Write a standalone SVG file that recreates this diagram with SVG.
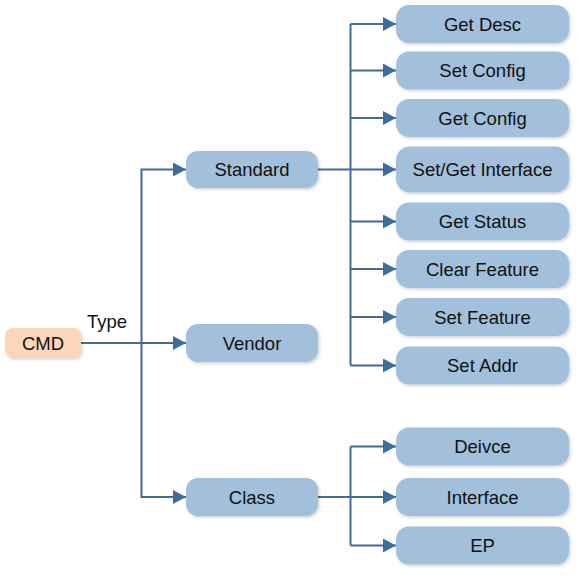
<svg xmlns="http://www.w3.org/2000/svg" width="582" height="578" viewBox="0 0 582 578">
<defs>
<marker id="arr" markerUnits="userSpaceOnUse" markerWidth="13" markerHeight="14" refX="13" refY="7" orient="auto">
<path d="M0,0 L13,7 L0,14 z" fill="#3E6D9C"/>
</marker>
<filter id="sh" x="-10%" y="-20%" width="125%" height="150%">
<feDropShadow dx="1.5" dy="1.5" stdDeviation="1.5" flood-color="#000" flood-opacity="0.18"/>
</filter>
<style>
.n{fill:#A2BFDB;filter:url(#sh)}
.o{fill:#FBD6B8;filter:url(#sh)}
.t{font-family:"Liberation Sans",Arial,sans-serif;font-size:18.5px;fill:#111;text-anchor:middle}
.c{fill:none;stroke:#3E6D9C;stroke-width:2}
.a{marker-end:url(#arr)}
</style>
</defs>
<rect width="582" height="578" fill="#fff"/>
<g id="connectors">
<path class="c a" d="M81,343 H186"/>
<path class="c a" d="M141.5,343 V169.5 H186"/>
<path class="c a" d="M141.5,343 V497 H186"/>
<path class="c" d="M318,169.5 H350.5"/>
<path class="c" d="M350.5,24 V365.5"/>
<path class="c a" d="M350.5,24 H396"/>
<path class="c a" d="M350.5,70.5 H396"/>
<path class="c a" d="M350.5,118 H396"/>
<path class="c a" d="M350.5,169.5 H396"/>
<path class="c a" d="M350.5,221.5 H396"/>
<path class="c a" d="M350.5,269 H396"/>
<path class="c a" d="M350.5,317 H396"/>
<path class="c a" d="M350.5,365.5 H396"/>
<path class="c" d="M318,497 H350.5"/>
<path class="c" d="M350.5,446.5 V545.5"/>
<path class="c a" d="M350.5,446.5 H396"/>
<path class="c a" d="M350.5,497 H396"/>
<path class="c a" d="M350.5,545.5 H396"/>
<text x="87" y="328" style="font-family:'Liberation Sans',Arial,sans-serif;font-size:18.5px;fill:#111">Type</text>
</g>
<g id="cmd"><rect class="o" x="5" y="328" width="76" height="30" rx="8"/><text class="t" x="43" y="349.5">CMD</text></g>
<g id="standard"><rect class="n" x="186" y="151" width="132" height="37" rx="12"/><text class="t" x="252" y="176">Standard</text></g>
<g id="vendor"><rect class="n" x="186" y="324" width="132" height="38" rx="12"/><text class="t" x="252" y="349.5">Vendor</text></g>
<g id="class"><rect class="n" x="186" y="478" width="132" height="38" rx="12"/><text class="t" x="252" y="503.5">Class</text></g>
<g id="get-desc"><rect class="n" x="396" y="5" width="173" height="38" rx="13"/><text class="t" x="482.5" y="30.5">Get Desc</text></g>
<g id="set-config"><rect class="n" x="396" y="51.5" width="173" height="38" rx="13"/><text class="t" x="482.5" y="77">Set Config</text></g>
<g id="get-config"><rect class="n" x="396" y="99" width="173" height="38" rx="13"/><text class="t" x="482.5" y="124.5">Get Config</text></g>
<g id="set-get-interface"><rect class="n" x="396" y="146.5" width="173" height="46" rx="14"/><text class="t" x="482.5" y="176">Set/Get Interface</text></g>
<g id="get-status"><rect class="n" x="396" y="202.5" width="173" height="38" rx="13"/><text class="t" x="482.5" y="228">Get Status</text></g>
<g id="clear-feature"><rect class="n" x="396" y="250" width="173" height="38" rx="13"/><text class="t" x="482.5" y="275.5">Clear Feature</text></g>
<g id="set-feature"><rect class="n" x="396" y="298" width="173" height="38" rx="13"/><text class="t" x="482.5" y="323.5">Set Feature</text></g>
<g id="set-addr"><rect class="n" x="396" y="346.5" width="173" height="38" rx="13"/><text class="t" x="482.5" y="372">Set Addr</text></g>
<g id="deivce"><rect class="n" x="396" y="427.5" width="173" height="38" rx="13"/><text class="t" x="482.5" y="453">Deivce</text></g>
<g id="interface"><rect class="n" x="396" y="478" width="173" height="38" rx="13"/><text class="t" x="482.5" y="503.5">Interface</text></g>
<g id="ep"><rect class="n" x="396" y="526.5" width="173" height="38" rx="13"/><text class="t" x="482.5" y="552">EP</text></g>
</svg>
